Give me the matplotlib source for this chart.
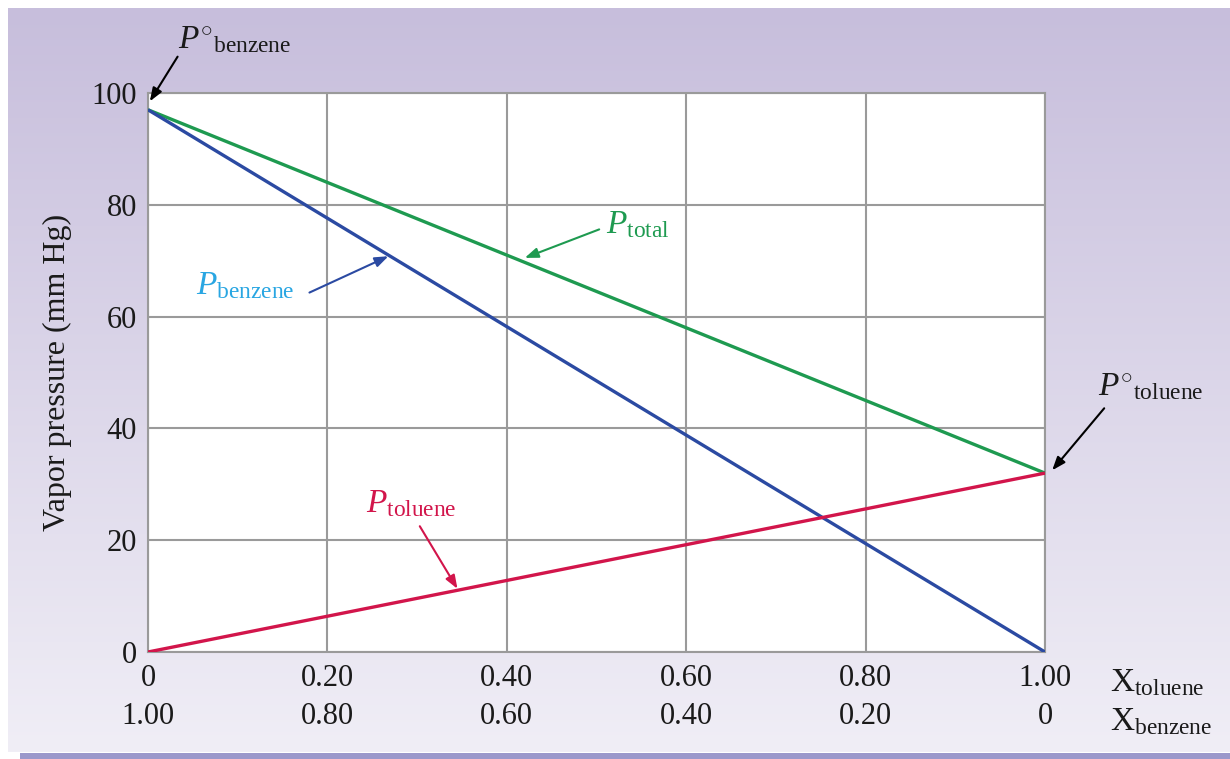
import numpy as np
import matplotlib
matplotlib.use("Agg")
from matplotlib import pyplot as plt

# DATA-------------------------------------------------------------------------
x_toluene = [0.0, 1.0]
p_benzene = [97.0, 0.0]
p_toluene = [0.0, 32.0]
p_total = [97.0, 32.0]
x_ticks = [0.0, 0.2, 0.4, 0.6, 0.8, 1.0]
x_top_labels = ["0", "0.20", "0.40", "0.60", "0.80", "1.00"]
x_bot_labels = ["1.00", "0.80", "0.60", "0.40", "0.20", "0"]
y_ticks = [0, 20, 40, 60, 80, 100]

plt.rcParams['font.family'] = ['Liberation Serif', 'DejaVu Serif']
plt.rcParams['mathtext.fontset'] = 'custom'
plt.rcParams['mathtext.rm'] = 'Liberation Serif'
plt.rcParams['mathtext.it'] = 'Liberation Serif:italic'

W, H = 1230, 759
fig = plt.figure(figsize=(W / 100, H / 100), dpi=100)

# background gradient panel
bg = fig.add_axes([0, 0, 1, 1], zorder=0)
bg.set_xlim(0, W)
bg.set_ylim(H, 0)
bg.axis('off')
top = np.array([0xc7, 0xbe, 0xdc]) / 255
bot = np.array([0xf0, 0xee, 0xf6]) / 255
t = np.linspace(0, 1, 256)[:, None, None]
grad = top * (1 - t) + bot * t
grad = np.repeat(grad, 2, axis=1)
bg.imshow(grad, extent=[8, W, 752, 8], aspect='auto')
bg.add_patch(plt.Rectangle((20, 753), W - 20, 6, color='#9b98cb', lw=0))

# main axes
ax = fig.add_axes([148 / W, 1 - 652 / H, (1045 - 148) / W, (652 - 93) / H], zorder=1)
ax.set_facecolor('white')
ax.set_xlim(0, 1)
ax.set_ylim(0, 100)

grey = '#9a9a9a'
ax.set_xticks(x_ticks)
ax.set_xticklabels(x_top_labels)
# second row of x labels (X_benzene) as minor ticks at the same spots
ax.xaxis.remove_overlapping_locs = False
ax.set_xticks(x_ticks, minor=True)
ax.set_xticklabels(x_bot_labels, minor=True)
ax.set_yticks(y_ticks)
ax.grid(True, which='major', color=grey, lw=1.5)
for s in ax.spines.values():
    s.set_color(grey)
    s.set_linewidth(1.5)
ax.tick_params(which='both', length=0, labelsize=22, colors='#1a1a1a')
ax.tick_params(axis='y', pad=8)
ax.tick_params(axis='x', which='major', pad=9)
ax.tick_params(axis='x', which='minor', pad=36)
ax.set_ylabel("Vapor pressure (mm Hg)", fontsize=23, labelpad=14, color='#1a1a1a')

green = '#1e9a50'
blue = '#2b4aa2'
red = '#d2154b'
ax.plot(x_toluene, p_total, color=green, lw=2.4, solid_capstyle='butt', zorder=3)
ax.plot(x_toluene, p_benzene, color=blue, lw=2.4, solid_capstyle='butt', zorder=3)
ax.plot(x_toluene, p_toluene, color=red, lw=2.4, solid_capstyle='butt', zorder=3)

# row labels for the x axis
ax.text(1.072, -0.027, r'$\mathrm{X}_{\mathrm{toluene}}$', transform=ax.transAxes,
        fontsize=24, va='top', ha='left', color='#1a1a1a')
ax.text(1.072, -0.097, r'$\mathrm{X}_{\mathrm{benzene}}$', transform=ax.transAxes,
        fontsize=24, va='top', ha='left', color='#1a1a1a')

def note(text, xy, xytext, color, tcolor, tx, ty, ha='left'):
    ax.annotate('', xy=xy, xytext=xytext, annotation_clip=False,
                arrowprops=dict(arrowstyle='-|>,head_length=0.8,head_width=0.3',
                                color=color, lw=1.5, shrinkA=0, shrinkB=0))
    ax.text(tx, ty, text, color=tcolor, fontsize=24, ha=ha, va='center',
            clip_on=False)

note(r'$P^{\circ}{}_{\mathrm{benzene}}$', (0.002, 98.5), (0.033, 106.5),
     'black', '#1a1a1a', 0.033, 109.5)
note(r'$P_{\mathrm{benzene}}$', (0.268, 70.8), (0.18, 64.3),
     blue, '#29a6e2', 0.053, 65.5)
note(r'$P_{\mathrm{total}}$', (0.42, 70.5), (0.503, 75.6),
     green, green, 0.511, 76.5)
note(r'$P_{\mathrm{toluene}}$', (0.345, 11.3), (0.303, 22.5),
     red, red, 0.243, 26.5)
note(r'$P^{\circ}{}_{\mathrm{toluene}}$', (1.008, 32.5), (1.066, 43.6),
     'black', '#1a1a1a', 1.059, 47.5)

fig.savefig('out.png', dpi=100)
